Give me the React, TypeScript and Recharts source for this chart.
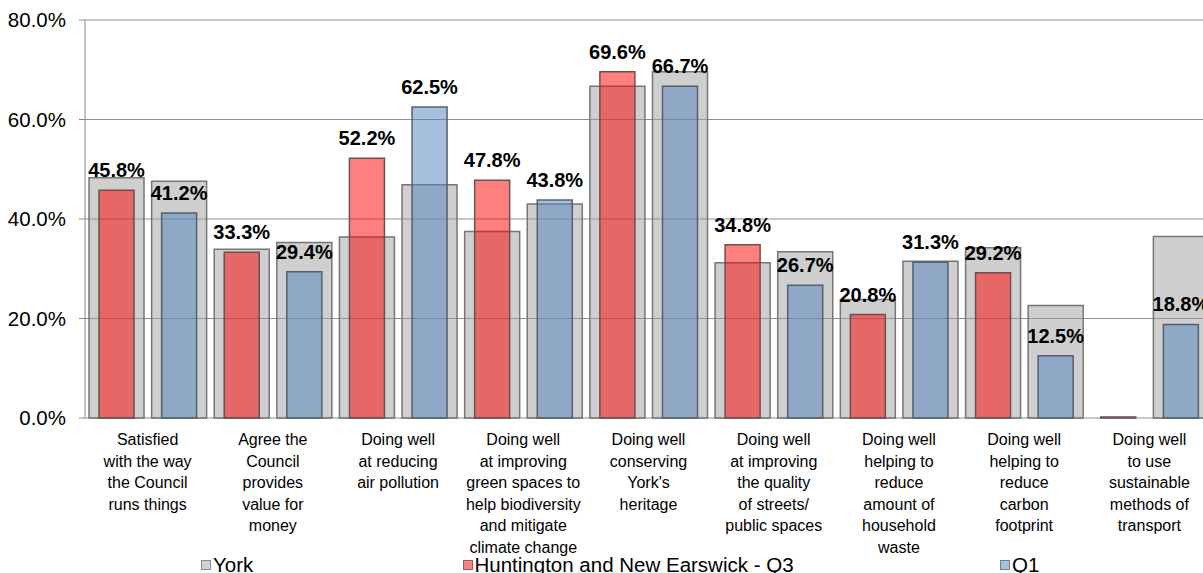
import React from 'react';
import { BarChart, Bar, XAxis, YAxis, CartesianGrid, Legend, LabelList } from 'recharts';

const categories = [
  'Satisfied\nwith the way\nthe Council\nruns things',
  'Agree the\nCouncil\nprovides\nvalue for\nmoney',
  'Doing well\nat reducing\nair pollution',
  'Doing well\nat improving\ngreen spaces to\nhelp biodiversity\nand mitigate\nclimate change',
  "Doing well\nconserving\nYork's\nheritage",
  'Doing well\nat improving\nthe quality\nof streets/\npublic spaces',
  'Doing well\nhelping to\nreduce\namount of\nhousehold\nwaste',
  'Doing well\nhelping to\nreduce\ncarbon\nfootprint',
  'Doing well\nto use\nsustainable\nmethods of\ntransport',
];

// York comparison values (left = against Q3, right = against Q1)
const yorkQ3: (number | null)[] = [48.3, 33.9, 36.4, 37.5, 66.7, 31.2, 23.8, 34.2, null];
const yorkQ1: (number | null)[] = [47.6, 35.3, 46.9, 43.0, 69.6, 33.4, 31.5, 22.6, 36.5];
const huntingtonQ3: number[] = [45.8, 33.3, 52.2, 47.8, 69.6, 34.8, 20.8, 29.2, 0];
const q1Values: number[] = [41.2, 29.4, 62.5, 43.8, 66.7, 26.7, 31.3, 12.5, 18.8];

const yTicks = [0, 20, 40, 60, 80];
const boundaryTicks = [0, 1, 2, 3, 4, 5, 6, 7, 8, 9];

const seriesNames = {
  york: 'York',
  hunt: 'Huntington and New Earswick - Q3',
  q1: 'Q1',
};

const data = categories.flatMap((cat, i) => [
  { slot: `${i}-a`, cat, york: yorkQ3[i], hunt: huntingtonQ3[i], q1: null },
  { slot: `${i}-b`, cat, york: yorkQ1[i], hunt: null, q1: q1Values[i] },
]);

const FONT = '"Liberation Sans", Arial, sans-serif';

const CatTick = (props: any) => {
  const { x, y, payload } = props;
  const lines = String(payload.value).split('\n');
  return (
    <text x={x} y={y} textAnchor="middle" fontSize={16} fontFamily={FONT} fill="#000">
      {lines.map((l, i) => (
        <tspan key={i} x={x} dy={i === 0 ? 27 : 21.5}>
          {l}
        </tspan>
      ))}
    </text>
  );
};

const legendStyle: Record<string, { left: number; fill: string; stroke: string; order: number }> = {
  york: { left: 201, fill: '#d0d0d0', stroke: '#8a8a8a', order: 0 },
  hunt: { left: 462.5, fill: '#ff8080', stroke: '#8a6060', order: 1 },
  q1: { left: 1000, fill: '#a7c0de', stroke: '#6a7f99', order: 2 },
};

const LegendContent = (props: any) => {
  const payload = [...(props.payload || [])].sort(
    (a: any, b: any) => (legendStyle[a.dataKey]?.order ?? 0) - (legendStyle[b.dataKey]?.order ?? 0)
  );
  return (
    <div style={{ position: 'relative', height: 24, width: 1203 }}>
      {payload.map((p: any) => {
        const s = legendStyle[p.dataKey];
        if (!s) return null;
        return (
          <div
            key={p.dataKey}
            style={{
              position: 'absolute',
              left: s.left,
              top: 8,
              height: 16,
              display: 'flex',
              alignItems: 'center',
              whiteSpace: 'nowrap',
            }}
          >
            <span
              style={{
                display: 'inline-block',
                width: 8,
                height: 8,
                background: s.fill,
                border: `1px solid ${s.stroke}`,
                marginRight: 2,
              }}
            />
            <span style={{ fontFamily: FONT, fontSize: 20.5, color: '#000', lineHeight: '16px' }}>{p.value}</span>
          </div>
        );
      })}
    </div>
  );
};

const fmt = (v: any) => (v === null || v === undefined || v === 0 ? '' : `${Number(v).toFixed(1)}%`);

export default function App() {
  return (
    <div style={{ position: 'absolute', left: 0, top: 0, width: 1203, height: 573, overflow: 'hidden', background: '#fff' }}>
      <BarChart width={1212} height={573} data={data} margin={{ top: 20, right: 0, bottom: 0, left: 0 }}>
        <CartesianGrid xAxisId="sy" horizontal vertical={false} stroke="#8f8f8f" />
        <XAxis xAxisId="sy" dataKey="slot" hide />
        <XAxis xAxisId="sh" dataKey="slot" hide />
        <XAxis xAxisId="sq" dataKey="slot" hide />
        <XAxis
          xAxisId="marks"
          type="number"
          domain={[0, 9]}
          ticks={boundaryTicks}
          allowDataOverflow
          height={0}
          tick={false}
          tickSize={5}
          axisLine={{ stroke: '#8a8a8a' }}
          tickLine={{ stroke: '#8a8a8a' }}
        />
        <XAxis
          xAxisId="labels"
          dataKey="cat"
          allowDuplicatedCategory={false}
          height={131}
          interval={0}
          tickLine={false}
          axisLine={false}
          tickSize={0}
          tickMargin={0}
          tick={<CatTick />}
        />
        <YAxis
          domain={[0, 80]}
          ticks={yTicks}
          width={85}
          tickSize={6}
          tickMargin={13}
          tickFormatter={(v: number) => `${v.toFixed(1)}%`}
          tick={{ fontSize: 20.5, fontFamily: FONT, fill: '#000' }}
          axisLine={{ stroke: '#8a8a8a' }}
          tickLine={{ stroke: '#8a8a8a' }}
        />
        <Legend verticalAlign="bottom" height={24} content={<LegendContent />} />
        <Bar
          xAxisId="sy"
          dataKey="york"
          name={seriesNames.york}
          barSize={55}
          fill="#a0a0a0"
          fillOpacity={0.5}
          stroke="#767676"
          strokeWidth={1.5}
          isAnimationActive={false}
        />
        <Bar
          xAxisId="sh"
          dataKey="hunt"
          name={seriesNames.hunt}
          barSize={35}
          fill="#ff0000"
          fillOpacity={0.5}
          stroke="#6a5050"
          strokeWidth={1.5}
          minPointSize={(v: any) => (v === 0 ? 1 : 0)}
          isAnimationActive={false}
        >
          <LabelList
            dataKey="hunt"
            position="top"
            offset={13}
            formatter={fmt}
            fill="#000"
            fontSize={20}
            fontWeight="bold"
            fontFamily={FONT}
          />
        </Bar>
        <Bar
          xAxisId="sq"
          dataKey="q1"
          name={seriesNames.q1}
          barSize={35}
          fill="#4f81bd"
          fillOpacity={0.5}
          stroke="#55606e"
          strokeWidth={1.5}
          isAnimationActive={false}
        >
          <LabelList
            dataKey="q1"
            position="top"
            offset={13}
            formatter={fmt}
            fill="#000"
            fontSize={20}
            fontWeight="bold"
            fontFamily={FONT}
          />
        </Bar>
      </BarChart>
    </div>
  );
}
